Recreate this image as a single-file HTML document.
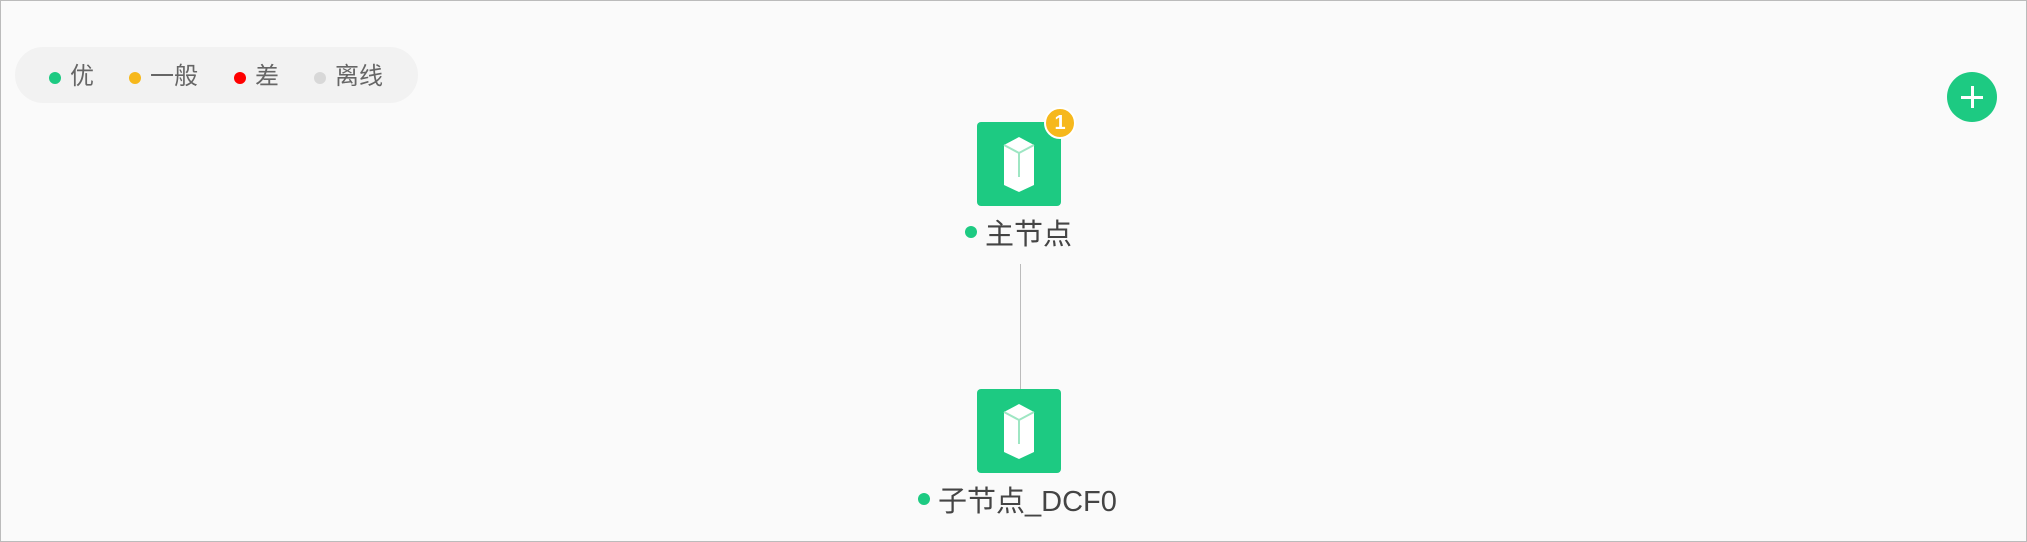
<!DOCTYPE html>
<html><head><meta charset="utf-8"><style>
html,body{margin:0;padding:0}
body{width:2027px;height:542px;background:#fafafa;position:relative;overflow:hidden;font-family:"Liberation Sans","Noto Sans CJK SC",sans-serif;color:#555}
.frame{position:absolute;left:0;top:0;width:2025px;height:540px;border:1px solid #bbb}
.legend{position:absolute;left:15px;top:47px;width:403px;height:56px;border-radius:28px;background:#f2f2f2}
.li{position:absolute;top:15px;font-size:24px;line-height:30px;color:#666}
.dot{position:absolute;width:12px;height:12px;border-radius:50%}
.box{position:absolute;left:977px;width:84px;height:84px;background:#1dca82;border-radius:4px}
.lbl{position:absolute;font-size:29px;line-height:32px;color:#444}
</style></head><body>
<div class="frame"></div>
<div class="legend">
 <div class="dot" style="left:34px;top:25px;background:#1dca82"></div><div class="li" style="left:55px">优</div>
 <div class="dot" style="left:114px;top:25px;background:#f6b81c"></div><div class="li" style="left:135px">一般</div>
 <div class="dot" style="left:219px;top:25px;background:#f00"></div><div class="li" style="left:240px">差</div>
 <div class="dot" style="left:299px;top:25px;background:#d8d8d8"></div><div class="li" style="left:320px">离线</div>
</div>
<div style="position:absolute;left:1020px;top:264px;width:1px;height:126px;background:#bbb"></div>
<svg width="0" height="0" style="position:absolute"><defs><g id="cube"><polygon points="-15,-19 0,-27 15,-19 15,21 0,28 -15,21" fill="#fff"/><polyline points="-15,-19 0,-11 15,-19" fill="none" stroke="#9ee6c3" stroke-width="2"/><line x1="0" y1="-11" x2="0" y2="13" stroke="#9ee6c3" stroke-width="2"/></g></defs></svg>
<div class="box" style="top:122px"><svg width="84" height="84"><use href="#cube" x="42" y="42"/></svg></div>
<div style="position:absolute;left:1044px;top:107px;width:32px;height:32px;border-radius:50%;background:#f6b81c;border:2px solid #fff;box-sizing:border-box;color:#fff;font-weight:bold;font-size:20px;line-height:28px;text-align:center">1</div>
<div class="dot" style="left:965px;top:226px;background:#1dca82"></div>
<div class="lbl" style="left:985px;top:219px">主节点</div>
<div class="box" style="top:389px"><svg width="84" height="84"><use href="#cube" x="42" y="42"/></svg></div>
<div class="dot" style="left:918px;top:493px;background:#1dca82"></div>
<div class="lbl" style="left:938px;top:486px">子节点_DCF0</div>
<div style="position:absolute;left:1947px;top:72px;width:50px;height:50px;border-radius:50%;background:#1dca82">
 <div style="position:absolute;left:14px;top:24px;width:22px;height:3px;background:#fff"></div>
 <div style="position:absolute;left:24px;top:14px;width:3px;height:22px;background:#fff"></div>
</div>
</body></html>
